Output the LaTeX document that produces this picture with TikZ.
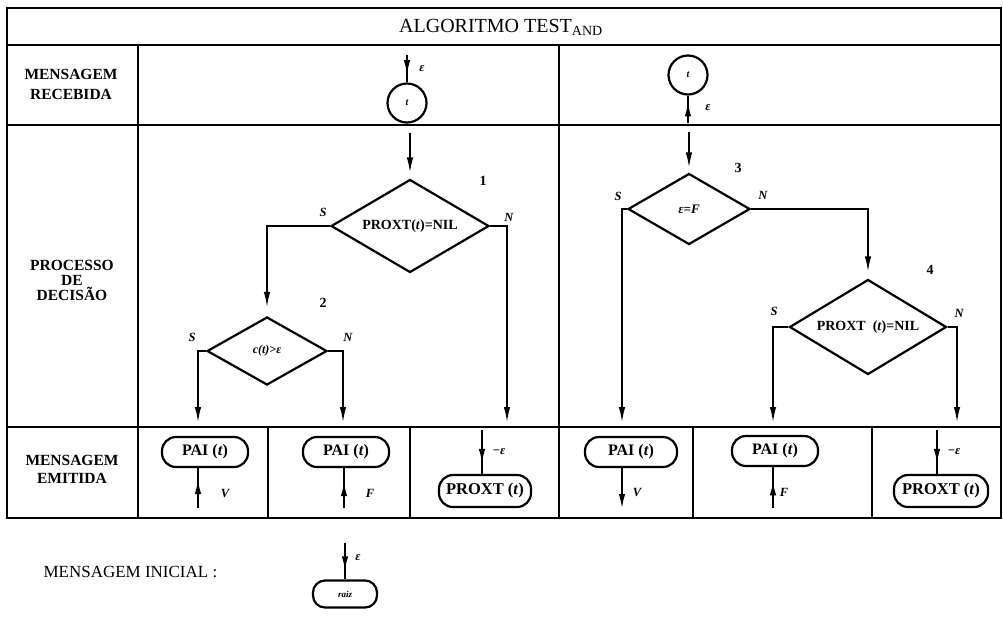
\documentclass[tikz,border=0pt]{standalone}
\usepackage{fontspec}
\setmainfont{Liberation Serif}
\usetikzlibrary{shapes.geometric,arrows.meta,calc}
\begin{document}
\begin{tikzpicture}[x=1pt,y=-1pt,
  frame/.style={line width=2pt},
  rule/.style={line width=1.8pt},
  dia/.style={diamond, draw, line width=2.2pt, inner sep=0pt, aspect=1.7,
     font=\bfseries\fontsize{14}{14}\selectfont},
  circ/.style={circle, draw, line width=2.2pt, inner sep=0pt, minimum size=39pt,
     font=\bfseries\itshape\fontsize{10}{10}\selectfont},
  term/.style={draw, line width=2.2pt, rounded corners=14pt, inner sep=0pt,
     minimum height=30pt, font=\bfseries\fontsize{16}{16}\selectfont},
  flow/.style={line width=1.4pt, -{Latex[length=15pt,width=6.5pt]}},
  line/.style={line width=1.4pt},
  head/.style={line width=1.4pt, -{Latex[length=14pt,width=6.5pt]}},
  lab/.style={font=\bfseries\fontsize{15.5}{20}\selectfont, align=center},
  sn/.style={font=\bfseries\itshape\fontsize{12.5}{12.5}\selectfont},
  num/.style={font=\bfseries\fontsize{14}{14}\selectfont}
]
\useasboundingbox (0,0) rectangle (1003,625);

% table frame
\draw[frame] (7,8) rectangle (1001,518);
\draw[rule] (7,45) -- (1001,45);
\draw[rule] (7,125) -- (1001,125);
\draw[rule] (7,427) -- (1001,427);
\draw[rule] (138,45) -- (138,518);
\draw[rule] (559,45) -- (559,518);
\draw[rule] (268,427) -- (268,518);
\draw[rule] (410,427) -- (410,518);
\draw[rule] (693,427) -- (693,518);
\draw[rule] (872,427) -- (872,518);

% title and row labels
\node[font=\fontsize{20}{20}\selectfont] (title) at (501,27) {ALGORITMO TEST\textsubscript{AND}};
\node[lab] (lrec) at (71,84) {MENSAGEM\\RECEBIDA};
\node[lab, font=\bfseries\fontsize{15.5}{15}\selectfont] (ldec) at (72,280) {PROCESSO\\DE\\DECISÃO};
\node[lab, font=\bfseries\fontsize{15.5}{18}\selectfont] (lemi) at (72,469) {MENSAGEM\\EMITIDA};

% received messages
\node[circ] (c1) at (407,103) {t};
\coordinate (c1in) at (407,55);
\draw[line] (c1in) -- (c1.north);
\draw[head] (c1in) -- ($(c1in)!0.7!(c1.north)$);
\node[sn] (eps1) at (422,69) {ε};

\node[circ] (c2) at (688,75) {t};
\coordinate (c2src) at (688,123);
\draw[line] (c2src) -- (c2.south);
\draw[head] (c2src) -- ($(c2src)!0.75!(c2.south)$);
\node[sn] (eps2) at (708,108) {ε};

% left decision tree
\node[dia, minimum width=158pt, minimum height=93pt] (d1) at (410,226) {PROXT(\textit{t})=NIL};
\node[dia, minimum width=120pt, minimum height=68pt, font=\bfseries\itshape\fontsize{12}{12}\selectfont] (d2) at (267,351) {c(t)>ε};
\coordinate (e1) at (410,133);
\draw[flow, shorten >=6pt] (e1) -- (d1.north);
\draw[flow, shorten >=9pt] (d1.west) -| (d2.north);
\coordinate (o1) at (198,422);
\coordinate (o2) at (343,422);
\coordinate (o3) at (507,422);
\draw[flow] (d2.west) -| (o1);
\draw[flow] (d2.east) -| (o2);
\draw[flow] (d1.east) -| (o3);
\node[num] (n1) at (483,181) {1};
\node[num] (n2) at (323,303) {2};
\node[sn] (s1) at (323,212) {S};
\node[sn] (m1) at (509,217) {N};
\node[sn] (s2) at (192,337) {S};
\node[sn] (m2) at (348,337) {N};

% right decision tree
\node[dia, minimum width=122pt, minimum height=71pt, font=\bfseries\itshape\fontsize{13}{13}\selectfont] (d3) at (689,209) {ε=F};
\node[dia, minimum width=157pt, minimum height=95pt] (d4) at (868,327) {PROXT\ \ (\textit{t})=NIL};
\coordinate (e3) at (689,132);
\draw[flow, shorten >=5pt] (e3) -- (d3.north);
\draw[flow, shorten >=7pt] (d3.east) -| (d4.north);
\coordinate (o4) at (622,422);
\coordinate (o5) at (773,422);
\coordinate (o6) at (957,422);
\draw[flow] (d3.west) -| (o4);
\draw[flow] (d4.west) -| (o5);
\draw[flow] (d4.east) -| (o6);
\node[num] (n3) at (738,168) {3};
\node[num] (n4) at (930,270) {4};
\node[sn] (s3) at (618,196) {S};
\node[sn] (m3) at (763,195) {N};
\node[sn] (s4) at (774,311) {S};
\node[sn] (m4) at (959,313) {N};

% emitted messages
\node[term, minimum width=86pt] (p1) at (205,452) {PAI (\textit{t})};
\coordinate (v1) at (198,508);
\draw[line] (v1) -- (v1 |- p1.south);
\draw[head] (v1) -- ($(v1)!0.7!(v1 |- p1.south)$);
\node[sn] (lv1) at (225,493) {V};

\node[term, minimum width=86pt] (p2) at (346,452) {PAI (\textit{t})};
\coordinate (v2) at (344,508);
\draw[line] (v2) -- (v2 |- p2.south);
\draw[head] (v2) -- ($(v2)!0.65!(v2 |- p2.south)$);
\node[sn] (lf1) at (370,493) {F};

\node[term, minimum width=92pt, minimum height=32pt, font=\bfseries\fontsize{16.5}{16.5}\selectfont] (q1) at (485,491) {PROXT (\textit{t})};
\coordinate (w1) at (482,430);
\draw[line] (w1) -- (w1 |- q1.north);
\draw[head] (w1) -- ($(w1)!0.75!(w1 |- q1.north)$);
\node[sn] (le1) at (499,452) {−ε};

\node[term, minimum width=92pt] (p3) at (631,452) {PAI (\textit{t})};
\coordinate (v3) at (622,508);
\draw[head] (v3 |- p3.south) -- (v3);
\node[sn] (lv2) at (637,492) {V};

\node[term, minimum width=86pt] (p4) at (775,451) {PAI (\textit{t})};
\coordinate (v4) at (773,508);
\draw[line] (v4) -- (v4 |- p4.south);
\draw[head] (v4) -- ($(v4)!0.65!(v4 |- p4.south)$);
\node[sn] (lf2) at (784,492) {F};

\node[term, minimum width=94pt, minimum height=32pt, font=\bfseries\fontsize{16.5}{16.5}\selectfont] (q2) at (941,491) {PROXT (\textit{t})};
\coordinate (w2) at (937,430);
\draw[line] (w2) -- (w2 |- q2.north);
\draw[head] (w2) -- ($(w2)!0.75!(w2 |- q2.north)$);
\node[sn] (le2) at (954,452) {−ε};

% initial message
\node[anchor=west, font=\fontsize{17}{17}\selectfont] (ini) at (40,572) {MENSAGEM INICIAL :};
\node[term, minimum width=64pt, minimum height=27pt, rounded corners=12pt,
      font=\bfseries\itshape\fontsize{9}{9}\selectfont] (raiz) at (345,594) {raiz};
\coordinate (r0) at (345,543);
\draw[line] (r0) -- (raiz.north);
\draw[head] (r0) -- ($(r0)!0.75!(raiz.north)$);
\node[sn] (epsr) at (358,558) {ε};
\end{tikzpicture}
\end{document}
